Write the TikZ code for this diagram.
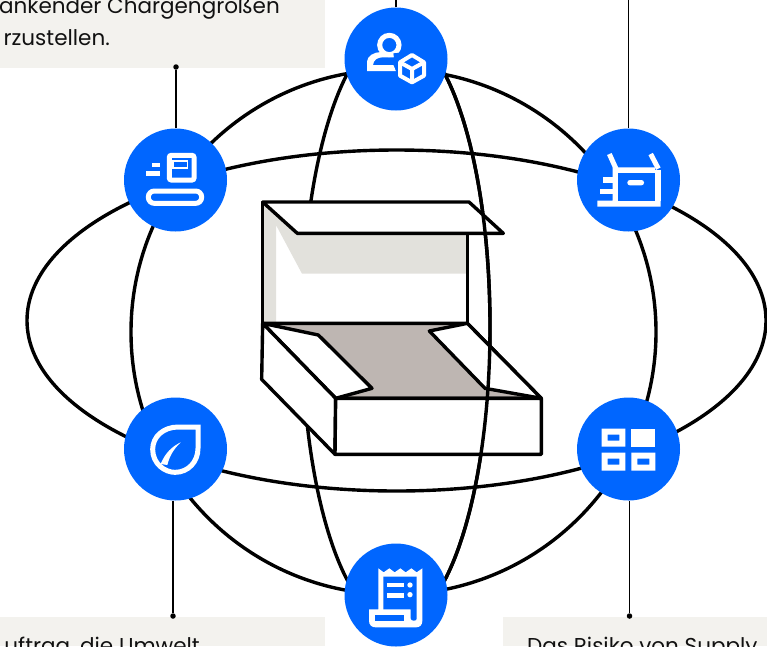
\documentclass[tikz,border=0pt]{standalone}
\usepackage{fontspec}
\setmainfont{Poppins}
\definecolor{blu}{HTML}{0066FF}
\definecolor{pan}{HTML}{F3F2EE}
\definecolor{sha}{HTML}{E2E1DC}
\definecolor{flo}{HTML}{BEB6B2}
\definecolor{ink}{HTML}{111111}
\tikzset{
 orbit/.style={line width=3.4pt,draw=black},
 boxln/.style={line width=3.4pt,draw=black,line join=round,fill=white},
 hub/.style={circle,fill=blu,minimum size=103pt,inner sep=0pt},
 lead/.style={line width=1.2pt,draw=black},
 dot/.style={circle,fill=black,minimum size=5.5pt,inner sep=0pt},
 panel/.style={fill=pan,draw=none},
 lbl/.style={font=\fontsize{21.5}{26}\selectfont,text=ink,inner sep=0pt},
 z/.style 2 args={shift={(#1,#2)},x=0.33333pt,y=-0.33333pt},
 wl/.style={draw=white,line width=#1,fill=none},
 wf/.style={fill=white,draw=none},
 bf/.style={fill=blu,draw=none},
}
\begin{document}
\begin{tikzpicture}[x=1pt,y=-1pt]
\useasboundingbox (0,0) rectangle (767,646);
\begin{scope}
\clip (0,0) rectangle (767,646);
\fill[white] (0,0) rectangle (767,646);
% panels
\fill[panel] (0,0) rectangle (325,68);
\fill[panel] (0,617) rectangle (325,646);
\fill[panel] (503,617) rectangle (767,646);
\node[lbl,anchor=base east] (t1) at (280,13) {ankender Chargengroßen};
\node[lbl,anchor=base east] (t2) at (110,45) {rzustellen.};
\node[lbl,anchor=base east] (t3) at (200,653) {uftrag, die Umwelt};
\node[lbl,anchor=base west] (t4) at (527,653) {Das Risiko von Supply};
% orbits
\draw[orbit] (396.5,320.5) ellipse [x radius=369.5,y radius=170.5];
\draw[orbit] (393.5,332) circle [radius=262.5];
\draw[orbit] (396,327) ellipse [x radius=94,y radius=296];
% box
\begin{scope}[z={240}{180}]
 \fill[white] (68,66) -- (68,430) -- (682,430) -- (682,160) -- cycle;
 \fill[sha] (68,66) -- (172,160) -- (680,160) -- (680,281) -- (186,281) -- (108,135) -- (108,430) -- (68,430) -- cycle;
 \draw[line width=3.4pt,line join=round] (682,160) -- (682,430);
 \draw[line width=3.4pt] (68,66) -- (68,430);
 \draw[boxln,fill=flo] (68,430) -- (682,430) -- (904,655) -- (287,655) -- cycle;
 \draw[boxln] (68,430) -- (235,465) -- (396,625) -- (287,655) -- cycle;
 \draw[boxln] (682,430) -- (568,453) -- (735,625) -- (904,655) -- cycle;
 \draw[boxln] (68,430) -- (65,598) -- (285,823) -- (287,655) -- cycle;
 \draw[boxln] (287,655) -- (904,655) -- (904,823) -- (285,823) -- cycle;
 \draw[boxln] (68,66) -- (687,66) -- (790,160) -- (172,160) -- cycle;
\end{scope}
\begin{scope}
 \clip (396,0) rectangle (767,646);
 \draw[orbit] (396,327) ellipse [x radius=94,y radius=296];
\end{scope}
% hubs
\node[hub] (top) at (396,59) {};
\node[hub] (tl) at (175.5,180) {};
\node[hub] (tr) at (628.5,180) {};
\node[hub] (bl) at (175.5,449) {};
\node[hub] (br) at (628.5,449) {};
\node[hub] (bot) at (396,595) {};
% leads
\node[dot] (d1) at (176,67) {};
\node[dot] (d2) at (173,616) {};
\node[dot] (d3) at (629.5,616) {};
\coordinate (e1) at (396,0);
\coordinate (e2) at (628.5,0);
\draw[lead] (d1 |- tl.north) -- (d1);
\draw[lead] (d2 |- bl.south) -- (d2);
\draw[lead] (d3 |- br.south) -- (d3);
\draw[lead] (top.north) -- (e1);
\draw[lead] (tr.north) -- (e2);
% conveyor icon
\begin{scope}[z={135}{140}]
 \draw[wl=5pt,rounded corners=2pt] (103,46) rectangle (177,120);
 \draw[wl=1.6pt] (114,63) rectangle (158,84);
 \fill[wf] (50,68) rectangle (75,82);
 \fill[wf] (32,93) rectangle (75,108);
 \draw[wl=5pt,rounded corners=6pt] (40,153) rectangle (200,190);
\end{scope}
% person-box icon
\begin{scope}[z={356}{20}]
 \draw[wl=5pt] (100,75) circle [radius=29];
 \fill[wf] (33,153) -- (33,125) .. controls (33,108) and (55,96) .. (75,96) -- (120,96) -- (113,112) -- (80,112) .. controls (65,112) and (52,120) .. (51,135) -- (112,135) -- (120,153) -- cycle;
 \draw[bf] (112,100) -- (170,95) -- (218,127) -- (218,170) -- (170,200) -- (122,170) -- cycle;
 \draw[wl=4pt,line join=round] (168,105) -- (204,127) -- (204,167) -- (168,187) -- (132,167) -- (132,127) -- cycle;
 \draw[wl=4pt,line join=round] (132,127) -- (168,147) -- (204,127) (168,147) -- (168,187);
\end{scope}
% forklift-box icon
\begin{scope}[z={560}{120}]
 \fill[wf] (112,242) -- (158,242) -- (158,142) -- (285,142) -- (285,242) -- (302,242) -- (302,260) -- (112,260) -- cycle;
 \fill[bf] (175,158) rectangle (285,242);
 \fill[wf] (285,150) rectangle (302,242);
 \draw[wl=5pt] (148,102) -- (168,146);
 \draw[wl=5pt] (272,102) -- (295,146);
 \fill[wf] (130,172) rectangle (158,188);
 \fill[wf] (120,207) rectangle (158,223);
 \fill[wf,rounded corners=2.5pt] (202,180) rectangle (252,196);
\end{scope}
% leaf icon
\begin{scope}[z={110}{390}]
 \draw[wl=5pt,line join=miter] (264,111) -- (205,111) .. controls (160,111) and (128,140) .. (128,178) .. controls (128,222) and (165,247) .. (195,247) .. controls (235,247) and (264,215) .. (264,175) -- cycle;
 \fill[wf] (152,222) .. controls (165,190) and (185,170) .. (212,157) .. controls (190,178) and (178,200) .. (172,225) -- cycle;
\end{scope}
% grid icon
\begin{scope}[z={560}{390}]
 \fill[wf,even odd rule] (125,116) rectangle (196,170) (143,134) rectangle (178,152);
 \fill[wf] (214,116) rectangle (286,170);
 \fill[wf,even odd rule] (125,188) rectangle (196,242) (143,206) rectangle (178,224);
 \fill[wf,even odd rule] (214,188) rectangle (286,242) (232,206) rectangle (268,224);
\end{scope}
% receipt icon
\begin{scope}[z={330}{530}]
 \fill[wf] (145,115) -- (161,127) -- (178,115) -- (194,127) -- (211,115) -- (227,127) -- (244,115) -- (260,127) -- (277,115) -- (277,272) .. controls (277,285) and (270,292) .. (258,292) -- (137,292) .. controls (125,292) and (117,285) .. (117,272) -- (117,238) -- (145,238) -- cycle;
 \fill[bf] (160,140) -- (260,140) -- (260,265) .. controls (260,270) and (258,272) .. (252,272) .. controls (246,272) and (242,270) .. (242,265) -- (242,238) -- (160,238) -- cycle;
 \fill[bf] (135,256) rectangle (222,272);
 \fill[wf] (170,158) rectangle (222,172);
 \fill[wf] (170,188) rectangle (222,203);
 \fill[wf] (240,165) circle [radius=8];
 \fill[wf] (240,194) circle [radius=8];
\end{scope}
\end{scope}
\end{tikzpicture}
\end{document}
